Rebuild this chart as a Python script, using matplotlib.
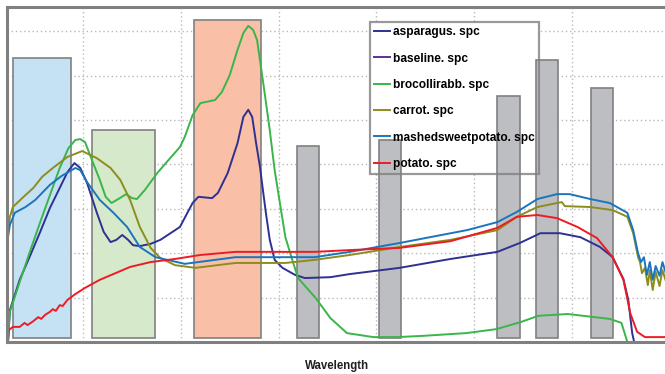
import numpy as np
import matplotlib.pyplot as plt
from matplotlib.patches import Rectangle

plt.rcParams['font.family'] = ['Liberation Sans', 'DejaVu Sans']

# filter bands drawn behind the spectra (nm, reflectance top)
band_lo = [328, 409, 513, 619, 703, 824, 864, 920]
band_hi = [388, 474, 582, 641, 725, 847, 886, 942]
band_top = [0.640, 0.477, 0.725, 0.441, 0.455, 0.554, 0.635, 0.572]
band_colors = ['#c5e2f5', '#d6e9cb', '#f9bfa7', '#bdbec1', '#bdbec1',
               '#bdbec1', '#bdbec1', '#bdbec1']

# asparagus
asp_x = [323, 325, 335, 346, 356, 366, 376, 384, 391, 397, 404, 414, 421, 428,
         434, 440, 446, 451, 458, 469, 479, 499, 512, 518, 532, 538, 548, 558,
         564, 569, 573, 577, 581, 584, 587, 591, 596, 604, 617, 627, 653, 673,
         724, 776, 824, 847, 868, 888, 909, 929, 942, 953, 958, 962, 964, 996]
asp_y = [0.0, 0.072, 0.140, 0.196, 0.248, 0.302, 0.347, 0.383, 0.403, 0.392,
         0.358, 0.291, 0.248, 0.225, 0.230, 0.241, 0.230, 0.218, 0.216, 0.221,
         0.230, 0.259, 0.313, 0.327, 0.324, 0.336, 0.381, 0.448, 0.507, 0.523,
         0.507, 0.448, 0.394, 0.342, 0.291, 0.230, 0.185, 0.167, 0.151, 0.144,
         0.146, 0.153, 0.167, 0.187, 0.203, 0.223, 0.245, 0.245, 0.236, 0.214,
         0.191, 0.142, 0.095, 0.020, 0.0, 0.0]

# baseline
base_x = [323, 996]
base_y = [0.0, 0.0]

# brocollirabb
bro_x = [323, 325, 335, 346, 356, 366, 376, 385, 392, 397, 402, 407, 417, 423,
         429, 436, 444, 450, 455, 463, 476, 489, 499, 504, 512, 520, 535, 542,
         550, 558, 564, 569, 574, 578, 583, 587, 591, 596, 602, 607, 614, 620,
         638, 653, 670, 697, 722, 749, 792, 823, 848, 866, 896, 939, 951, 957,
         996]
bro_y = [0.0, 0.068, 0.135, 0.207, 0.270, 0.331, 0.392, 0.437, 0.455, 0.457,
         0.450, 0.421, 0.365, 0.327, 0.313, 0.322, 0.333, 0.324, 0.322, 0.342,
         0.381, 0.414, 0.439, 0.462, 0.511, 0.538, 0.545, 0.563, 0.601, 0.658,
         0.696, 0.712, 0.703, 0.680, 0.604, 0.541, 0.477, 0.387, 0.304, 0.236,
         0.185, 0.144, 0.099, 0.054, 0.020, 0.011, 0.011, 0.014, 0.020, 0.029,
         0.045, 0.059, 0.063, 0.052, 0.043, 0.0, 0.0]

# carrot
car_x = [323, 325, 328, 339, 349, 358, 369, 384, 399, 414, 428, 438, 448, 458,
         469, 479, 494, 515, 556, 607, 637, 673, 724, 776, 824, 844, 865, 885,
         890, 893, 919, 942, 957, 963, 968, 970, 972, 975, 978, 980, 983, 986,
         990, 993, 996]
car_y = [0.248, 0.282, 0.304, 0.327, 0.347, 0.372, 0.392, 0.417, 0.430, 0.414,
         0.392, 0.365, 0.320, 0.259, 0.212, 0.189, 0.173, 0.167, 0.178, 0.178,
         0.185, 0.196, 0.214, 0.230, 0.252, 0.282, 0.304, 0.313, 0.315, 0.306,
         0.304, 0.297, 0.282, 0.245, 0.191, 0.180, 0.155, 0.167, 0.128, 0.162,
         0.117, 0.158, 0.126, 0.162, 0.140]

# mashedsweetpotato
msp_x = [323, 325, 330, 341, 351, 366, 378, 392, 397, 404, 417, 431, 445, 458,
         474, 504, 556, 637, 673, 724, 793, 824, 844, 865, 885, 898, 919, 939,
         957, 963, 968, 971, 974, 977, 980, 983, 986, 990, 993, 996]
msp_y = [0.236, 0.264, 0.291, 0.304, 0.320, 0.354, 0.374, 0.392, 0.387, 0.360,
         0.320, 0.291, 0.259, 0.214, 0.191, 0.176, 0.191, 0.191, 0.203, 0.223,
         0.252, 0.270, 0.293, 0.322, 0.333, 0.333, 0.322, 0.313, 0.291, 0.252,
         0.200, 0.180, 0.191, 0.151, 0.180, 0.140, 0.171, 0.149, 0.180, 0.158]

# potato
pot_x = [323, 324, 328, 335, 340, 343, 349, 354, 357, 361, 366, 369, 372, 376,
         379, 384, 392, 402, 417, 433, 448, 469, 494, 520, 556, 637, 673, 724,
         776, 824, 844, 865, 885, 906, 926, 942, 953, 960, 967, 975, 996]
pot_y = [0.0, 0.027, 0.034, 0.034, 0.043, 0.038, 0.047, 0.056, 0.052, 0.061,
         0.068, 0.074, 0.070, 0.083, 0.081, 0.095, 0.108, 0.122, 0.140, 0.155,
         0.169, 0.180, 0.187, 0.196, 0.203, 0.203, 0.207, 0.212, 0.227, 0.257,
         0.282, 0.286, 0.279, 0.259, 0.234, 0.191, 0.140, 0.065, 0.023, 0.011,
         0.011]

series = [
    ('asparagus. spc', asp_x, asp_y, '#2e3192'),
    ('baseline. spc', base_x, base_y, '#662d91'),
    ('brocollirabb. spc', bro_x, bro_y, '#3ab54a'),
    ('carrot. spc', car_x, car_y, '#8d8d1d'),
    ('mashedsweetpotato. spc', msp_x, msp_y, '#1b75bc'),
    ('potato. spc', pot_x, pot_y, '#ed1c24'),
]

fig = plt.figure(figsize=(6.65, 3.74), dpi=100)
ax = fig.add_axes([0.0105, 0.0856, 0.996, 0.8957])

lo = np.array(band_lo)
hi = np.array(band_hi)
ax.bar(lo, np.array(band_top) - 0.008, width=hi - lo, bottom=0.008, align='edge',
       color=band_colors, edgecolor='#808080', linewidth=1.2, zorder=1)

for name, xs, ys, c in series:
    ax.plot(xs, ys, color=c, lw=1.4, label=name, zorder=2)

ax.set_xlim(322, 1000)
ax.set_ylim(0, 0.7545)
ax.set_xticks(np.arange(400, 1000, 100))
ax.set_yticks(np.arange(0.1, 0.75, 0.1))
ax.tick_params(length=0, labelbottom=False, labelleft=False)
ax.set_axisbelow(True)
ax.grid(True, color='#b8b8b8', linestyle=(0, (1, 2)), linewidth=1.0)
for s in ax.spines.values():
    s.set_color('#808080')
    s.set_linewidth(2.2)

leg = ax.legend(loc='upper left', bbox_to_anchor=(0.548, 0.955),
                borderaxespad=0, frameon=True, fancybox=False,
                facecolor='none', edgecolor='#808080',
                prop={'size': 8.6, 'weight': 'bold'},
                handlelength=1.35, handletextpad=0.2, labelspacing=1.2,
                borderpad=0.35)
leg.get_frame().set_linewidth(1.6)
leg.set_zorder(5)

# white backing under the legend that still lets the bands show through
fig.canvas.draw()
bb = leg.get_frame().get_window_extent().transformed(ax.transAxes.inverted())
ax.add_patch(Rectangle((bb.x0, bb.y0), bb.width, bb.height, transform=ax.transAxes,
                       facecolor='white', edgecolor='none', zorder=0.7))

fig.text(337 / 665, 1 - 366 / 374, 'Wavelength', ha='center', va='center',
         fontsize=8.3, fontweight='bold', color='#231f20')
# title sits mostly above the visible area, as in the source image
fig.text(108 / 665, 1 + 4 / 374, 'Average Reflectance Spectra', ha='left',
         va='baseline', fontsize=14, fontweight='bold', color='#231f20')

fig.savefig('out.png', dpi=100)
